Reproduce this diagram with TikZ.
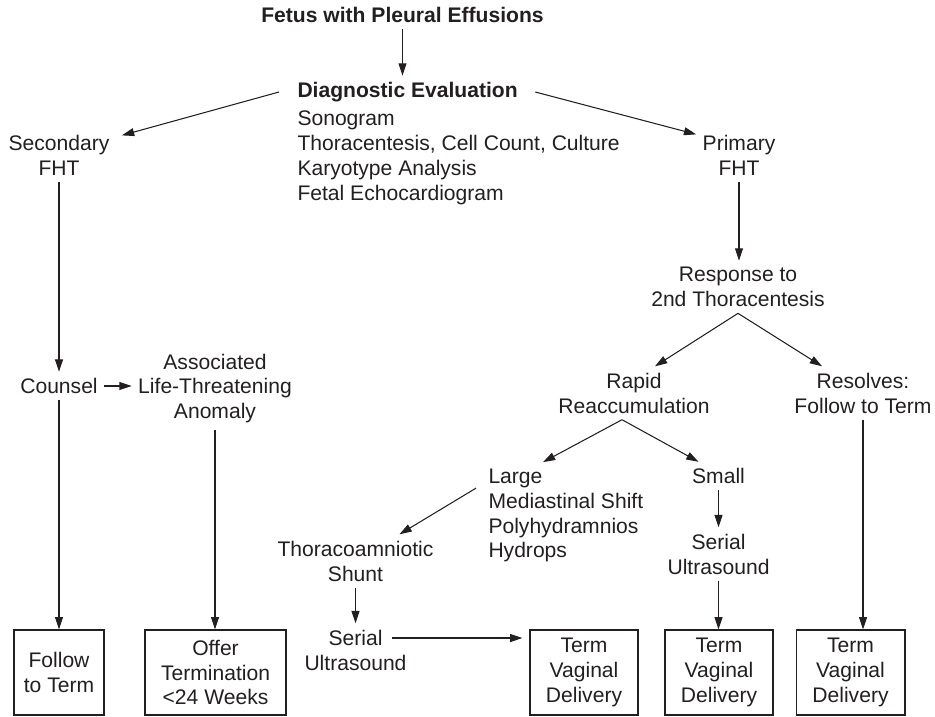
\documentclass[tikz,border=0pt]{standalone}
\usepackage{fontspec}
\setmainfont{Liberation Sans}
\usepackage{tikz}
\usetikzlibrary{arrows.meta,positioning}
\definecolor{inkdark}{RGB}{35,31,32}
\tikzset{
  flowtext/.style={inner sep=3.5pt, align=center, text=inkdark,
    font=\fontsize{12pt}{14.2pt}\selectfont},
  flowlist/.style={flowtext, align=left, anchor=west},
  flowtitle/.style={font=\fontsize{12pt}{14.2pt}\selectfont\bfseries},
  endbox/.style={draw=inkdark, line width=0.6pt, inner sep=0pt, align=center,
    minimum height=1.7cm, text=inkdark, font=\fontsize{12pt}{14.2pt}\selectfont},
  flowarrow/.style={draw=inkdark, line width=0.6pt, -{Triangle[length=7pt,width=4.5pt]}}
}

\begin{document}
\begin{tikzpicture}[x=0.02cm, y=-0.02cm]
  \useasboundingbox (0,0) rectangle (935,716);

  % top of the chart
  \node[flowtext, flowtitle] (fetus) at (402.5,14.75) {Fetus with Pleural Effusions};
  \node[flowlist, flowtitle] (diag) at (291,92) {Diagnostic Evaluation};
  \node[flowlist] (tests) at (291,157.5) {Sonogram\\Thoracentesis, Cell Count, Culture\\Karyotype Analysis\\Fetal Echocardiogram};
  \node[flowtext] (sec) at (59,155) {Secondary\\FHT};
  \node[flowtext] (prim) at (739,155) {Primary\\FHT};

  % secondary branch
  \node[flowtext] (counsel) at (59,386) {Counsel};
  \node[flowtext] (assoc) at (215,388.5) {Associated\\Life-Threatening\\Anomaly};

  % primary branch
  \node[flowtext] (resp) at (738,287) {Response to\\2nd Thoracentesis};
  \node[flowtext] (rapid) at (634,393) {Rapid\\Reaccumulation};
  \node[flowtext] (resolv) at (863,393) {Resolves:\\Follow to Term};
  \node[flowlist] (large) at (482,515.5) {Large\\Mediastinal Shift\\Polyhydramnios\\Hydrops};
  \node[flowtext] (small) at (718.5,476) {Small};
  \node[flowtext] (serialB) at (718.5,554) {Serial\\Ultrasound};
  \node[flowtext] (shunt) at (355.5,561) {Thoracoamniotic\\Shunt};
  \node[flowtext] (serialA) at (355.5,650) {Serial\\Ultrasound};

  % outcomes
  \node[endbox, minimum width=1.8cm] (follow) at (59,672.5) {Follow\\to Term};
  \node[endbox, minimum width=2.82cm] (offer) at (215.5,672.5) {Offer\\Termination\\<24 Weeks};
  \node[endbox, minimum width=2.16cm] (termA) at (584,672.5) {Term\\Vaginal\\Delivery};
  \node[endbox, minimum width=2.16cm] (termB) at (719,672.5) {Term\\Vaginal\\Delivery};
  \node[endbox, minimum width=2.18cm] (termC) at (850.5,672.5) {Term\\Vaginal\\Delivery};

  % connectors
  \draw[flowarrow] (fetus.south) -- (fetus.south |- diag.north);
  \draw[flowarrow] ([xshift=-0.24cm]diag.west) -- ([shift={(0.12cm,-0.14cm)}]sec.north east);
  \draw[flowarrow] ([xshift=0.22cm]diag.east) -- ([yshift=-0.12cm]prim.north west);
  \draw[flowarrow] (sec.south) -- (counsel.north);
  \draw[flowarrow] (counsel.east) -- (counsel.east -| assoc.west);
  \draw[flowarrow] (counsel.south) -- (counsel.south |- follow.north);
  \draw[flowarrow] (assoc.south) -- (assoc.south |- offer.north);
  \draw[flowarrow] (prim.south) -- (prim.south |- resp.north);
  \draw[flowarrow] (resp.south) -- ([xshift=0.42cm]rapid.north);
  \draw[flowarrow] (resp.south) -- ([xshift=-0.82cm]resolv.north);
  \draw[flowarrow] (resolv.south) -- (resolv.south |- termC.north);
  \draw[flowarrow] ([xshift=-0.24cm]rapid.south) -- ([xshift=1.22cm]large.north west);
  \draw[flowarrow] ([xshift=-0.24cm]rapid.south) -- ([xshift=-0.4cm]small.north);
  \draw[flowarrow] (small.south) -- (serialB.north);
  \draw[flowarrow] (serialB.south) -- (serialB.south |- termB.north);
  \draw[flowarrow] ([shift={(-0.12cm,-0.52cm)}]large.north west) -- ([xshift=0.88cm]shunt.north);
  \draw[flowarrow] (shunt.south) -- (serialA.north);
  \coordinate (serialTail) at ([shift={(-0.42cm,0.24cm)}]serialA.east);
  \draw[flowarrow] (serialTail) -- ([xshift=-0.14cm]serialTail -| termA.west);
\end{tikzpicture}
\end{document}
